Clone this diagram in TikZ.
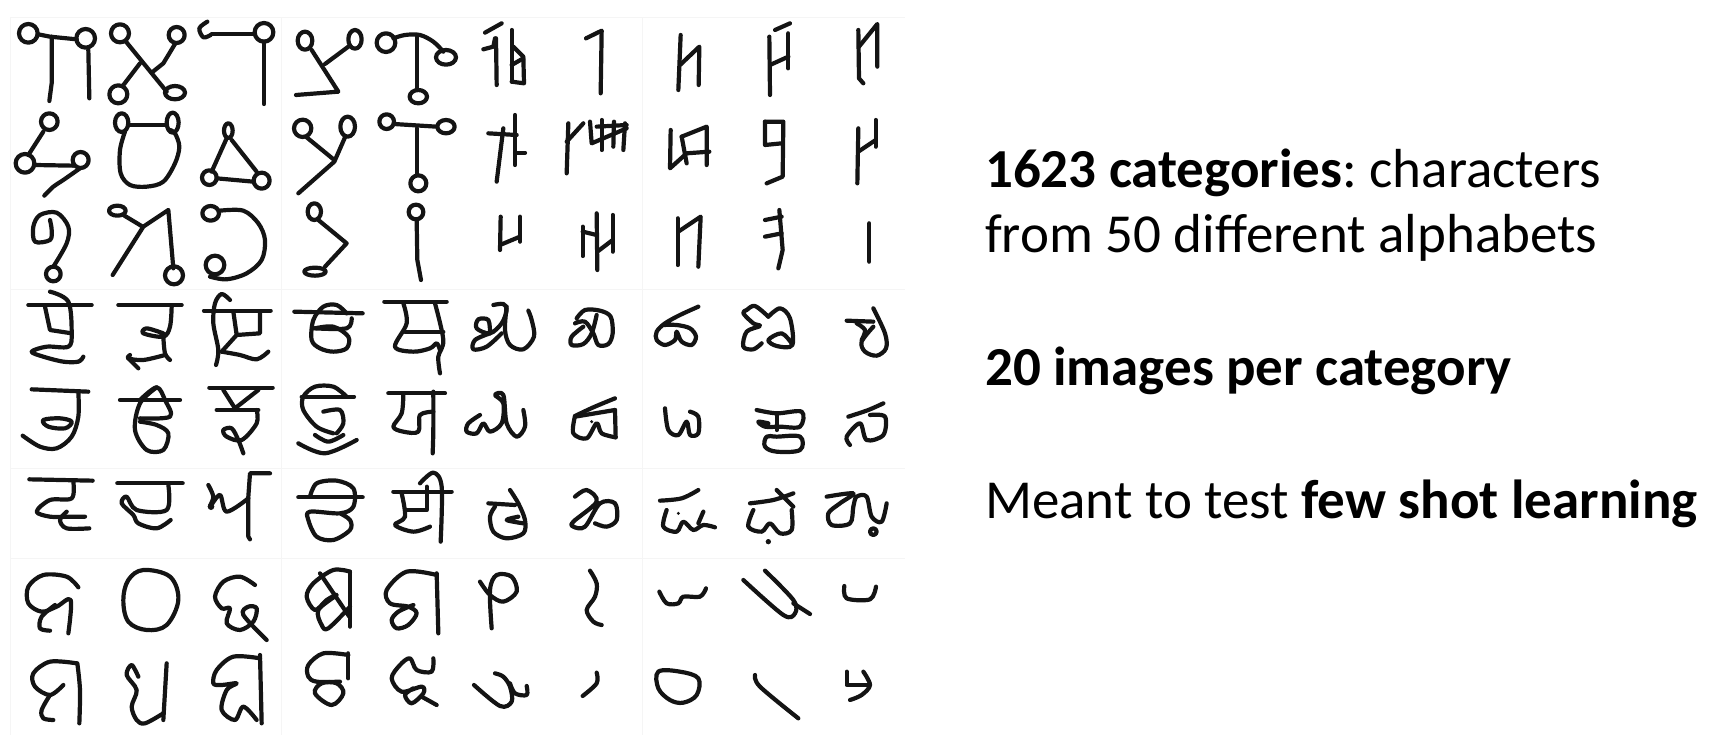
\documentclass[tikz,border=0pt]{standalone}
\usepackage{fontspec}
\setmainfont{Carlito}
\newcommand{\crv}[1]{\draw[ink] plot[smooth,tension=0.55] coordinates {#1};}
\newcommand{\crc}[1]{\draw[ink] plot[smooth cycle,tension=0.6] coordinates {#1};}
\tikzset{
	ink/.style={line width=4.2pt, line cap=round, line join=round, color=black!92},
	gridline/.style={line width=0.8pt, color=black!4},
	zoomed/.style={x=0.33333pt, y=-0.33333pt},
	caption/.style={anchor=base west, inner sep=0pt, font=\fontsize{55}{60}\selectfont}
}
\begin{document}
\begin{tikzpicture}[x=1pt,y=-1pt]
	\useasboundingbox (0,0) rectangle (1726,738);
	% faint seams of the sheet
	\draw[gridline] (10,17) -- (905,17);
	\draw[gridline] (10,289) -- (905,289);
	\draw[gridline] (10,468) -- (905,468);
	\draw[gridline] (10,558) -- (905,558);
	\draw[gridline] (10,17) -- (10,735);
	\draw[gridline] (281,17) -- (281,735);
	\draw[gridline] (642,17) -- (642,735);

	% rows 1 to 3, left
	\begin{scope}[shift={(0pt,0pt)},zoomed]
		\draw[ink] (85,100) circle[radius=28];
		\draw[ink] (115,103) -- (150,110) -- (230,118);
		\draw[ink] (257,115) circle[radius=28];
		\draw[ink] (155,110) -- (155,250) -- (148,303);
		\draw[ink] (265,150) -- (268,295);
		\draw[ink] (360,100) circle[radius=27];
		\draw[ink] (378,125) -- (500,275);
		\draw[ink] (530,105) circle[radius=24];
		\draw[ink] (525,132) -- (490,190) -- (455,218);
		\draw[ink] (368,258) -- (420,190);
		\draw[ink] (355,283) circle[radius=27];
		\draw[ink] (525,278) ellipse[x radius=30,y radius=20];
		\crv{(622,65) (598,85) (610,112) (632,105)}
		\draw[ink] (635,102) -- (765,102);
		\draw[ink] (792,97) circle[radius=28];
		\draw[ink] (792,125) -- (792,312);
		\draw[ink] (915,122) ellipse[x radius=22,y radius=27];
		\draw[ink] (935,150) -- (1015,275) -- (888,285);
		\draw[ink] (975,192) -- (1045,140);
		\draw[ink] (1065,118) ellipse[x radius=20,y radius=28];
		\draw[ink] (1158,128) circle[radius=28];
		\crv{(1180,115) (1215,105) (1260,105) (1300,125) (1330,155)}
		\draw[ink] (1338,172) ellipse[x radius=30,y radius=22];
		\draw[ink] (1250,110) -- (1250,270);
		\draw[ink] (1255,290) ellipse[x radius=26,y radius=20];

		\draw[ink] (148,365) circle[radius=25];
		\draw[ink] (130,395) -- (85,465);
		\draw[ink] (75,490) circle[radius=28];
		\draw[ink] (105,495) -- (220,497);
		\draw[ink] (242,480) circle[radius=24];
		\crv{(240,505) (190,540) (160,560) (133,587)}
		\draw[ink] (365,368) ellipse[x radius=20,y radius=28];
		\draw[ink] (518,368) ellipse[x radius=18,y radius=30];
		\draw[ink] (388,375) -- (495,375);
		\crv{(375,395) (360,450) (362,520) (390,555) (440,560) (490,545) (525,490) (538,440) (525,400) (510,390)}
		\draw[ink] (685,392) ellipse[x radius=13,y radius=22];
		\draw[ink] (680,415) -- (635,515);
		\draw[ink] (695,420) -- (770,515);
		\draw[ink] (650,535) -- (760,545);
		\draw[ink] (628,533) circle[radius=22];
		\draw[ink] (785,542) circle[radius=24];
		\draw[ink] (908,385) circle[radius=26];
		\draw[ink] (920,412) -- (1003,480);
		\draw[ink] (1043,380) ellipse[x radius=22,y radius=30];
		\draw[ink] (1035,412) -- (1003,485) -- (895,580);
		\draw[ink] (1160,365) circle[radius=22];
		\draw[ink] (1182,372) -- (1310,380);
		\draw[ink] (1338,380) ellipse[x radius=26,y radius=20];
		\draw[ink] (1250,385) -- (1250,525);
		\draw[ink] (1255,550) circle[radius=24];

		\crv{(150,660) (155,690) (150,720) (105,725) (100,680) (120,645) (170,638) (205,680) (200,730) (160,800)}
		\draw[ink] (160,822) circle[radius=22];
		\draw[ink] (352,632) ellipse[x radius=25,y radius=15];
		\draw[ink] (370,645) -- (428,680);
		\draw[ink] (338,825) -- (430,680) -- (505,630) -- (520,805);
		\draw[ink] (522,826) circle[radius=27];
		\draw[ink] (632,640) ellipse[x radius=25,y radius=22];
		\crv{(660,632) (730,632) (775,670) (795,720) (785,780) (740,820) (680,838) (630,830)}
		\draw[ink] (645,795) circle[radius=28];
		\draw[ink] (943,635) ellipse[x radius=20,y radius=25];
		\draw[ink] (955,660) -- (1040,730) -- (975,800);
		\draw[ink] (945,815) ellipse[x radius=32,y radius=12];
		\draw[ink] (1248,636) circle[radius=22];
		\draw[ink] (1250,660) -- (1252,780) -- (1263,840);
	\end{scope}

	% rows 1 to 3, right
	\begin{scope}[shift={(460pt,0pt)},zoomed]
		\draw[ink] (125,70) -- (75,98);
		\draw[ink] (70,148) -- (100,140) -- (105,115);
		\draw[ink] (108,115) -- (110,255);
		\draw[ink] (155,90) -- (155,245);
		\draw[ink] (160,140) -- (190,170) -- (192,250) -- (155,245);
		\draw[ink] (155,195) -- (190,175);
		\draw[ink] (378,115) -- (425,92) -- (422,280);
		\draw[ink] (662,105) -- (655,270);
		\draw[ink] (660,195) -- (718,140) -- (716,255);
		\draw[ink] (928,110) -- (930,285);
		\draw[ink] (945,90) -- (990,70);
		\draw[ink] (985,100) -- (985,205);
		\draw[ink] (985,170) -- (930,195);
		\draw[ink] (1195,90) -- (1197,235) -- (1210,250);
		\draw[ink] (1197,140) -- (1252,72) -- (1252,200);

		\draw[ink] (85,400) -- (170,405);
		\draw[ink] (130,385) -- (110,545);
		\draw[ink] (165,345) -- (165,495);
		\draw[ink] (165,458) -- (195,458);
		\draw[ink] (325,370) -- (320,520);
		\draw[ink] (320,425) -- (370,370);
		\draw[ink] (390,365) -- (395,430) -- (500,385);
		\draw[ink] (425,360) -- (425,450);
		\draw[ink] (462,365) -- (460,440);
		\draw[ink] (495,370) -- (490,450);
		\draw[ink] (410,380) -- (500,375);
		\draw[ink] (632,390) -- (630,505) -- (680,460) -- (748,455);
		\draw[ink] (665,410) -- (680,490);
		\draw[ink] (665,410) -- (740,380) -- (740,495);
		\draw[ink] (915,365) -- (970,365) -- (968,530) -- (920,550);
		\draw[ink] (915,365) -- (915,435) -- (965,430);
		\draw[ink] (1195,385) -- (1192,550);
		\draw[ink] (1195,455) -- (1247,420);
		\draw[ink] (1247,360) -- (1247,440);

		\draw[ink] (122,650) -- (120,750);
		\draw[ink] (120,735) -- (180,710);
		\draw[ink] (180,650) -- (180,725);
		\draw[ink] (368,680) -- (368,768);
		\draw[ink] (368,695) -- (410,705);
		\draw[ink] (410,640) -- (412,810);
		\draw[ink] (412,755) -- (458,720);
		\draw[ink] (458,645) -- (458,755);
		\draw[ink] (653,655) -- (653,795);
		\draw[ink] (655,695) -- (722,650) -- (715,800);
		\draw[ink] (915,660) -- (965,650);
		\draw[ink] (958,630) -- (968,750) -- (955,805);
		\draw[ink] (915,710) -- (965,700);
		\draw[ink] (1228,670) -- (1228,785);
	\end{scope}

	% rows 4 to 6, left
	\begin{scope}[shift={(0pt,-290pt)},zoomed]
		\draw[ink] (85,45) -- (275,45);
		\crv{(150,5) (205,35) (215,130) (205,170) (140,170) (95,185) (130,200) (190,215) (235,215) (250,200)}
		\draw[ink] (135,50) -- (150,120) -- (215,130);
		\draw[ink] (355,45) -- (545,45);
		\crv{(515,50) (510,110) (490,140) (430,130) (440,115) (490,130)}
		\crv{(490,140) (495,190) (510,210)}
		\crv{(495,195) (430,210) (385,205) (390,195)}
		\draw[ink] (385,205) -- (415,235);
		\draw[ink] (612,62) -- (812,62);
		\crv{(690,30) (665,12) (645,40) (640,100) (655,180) (648,225)}
		\draw[ink] (700,65) -- (710,135) -- (780,130) -- (780,65);
		\draw[ink] (710,135) -- (665,185);
		\crv{(665,185) (720,195) (770,208) (805,185)}
		\draw[ink] (883,65) -- (1088,70);
		\crv{(1040,70) (1010,45) (970,50) (940,90) (935,150) (960,175) (1000,185) (1040,175) (1045,140) (1000,110) (945,115)}
		\crv{(945,115) (1040,115) (1055,85)}
		\draw[ink] (1153,35) -- (1340,35);
		\crv{(1210,40) (1220,100) (1185,170) (1240,185) (1290,175) (1310,160) (1320,180)}
		\draw[ink] (1215,125) -- (1330,125);
		\crv{(1305,40) (1330,150) (1315,200) (1320,250)}

		\draw[ink] (95,298) -- (265,305);
		\crv{(235,305) (235,380) (215,440) (170,475) (120,470) (68,437)}
		\crc{(130,390) (180,385) (215,395) (195,415) (145,410)}
		\draw[ink] (360,330) -- (540,330);
		\crv{(420,330) (470,292) (495,330) (510,380) (420,385)}
		\crv{(470,292) (420,340) (405,420) (440,480) (490,480) (505,430) (470,405) (420,395)}
		\draw[ink] (628,293) -- (818,293);
		\draw[ink] (670,300) -- (705,355) -- (775,300);
		\draw[ink] (650,360) -- (775,360);
		\crv{(770,360) (770,400) (725,450) (680,440) (670,420) (695,415) (715,450) (730,490)}
		\draw[ink] (905,320) -- (1062,320);
		\crv{(1000,430) (950,410) (910,360) (910,320) (945,290) (1000,290) (1040,320)}
		\crv{(970,365) (1020,360) (1030,400) (1010,430)}
		\crv{(945,435) (985,455) (1030,435)}
		\crv{(895,460) (975,490) (1070,450)}
		\draw[ink] (1165,310) -- (1335,310);
		\crv{(1210,315) (1205,370) (1180,410) (1210,425) (1255,425) (1260,375) (1300,365)}
		\crv{(1300,305) (1300,420) (1298,490)}

		\draw[ink] (88,568) -- (278,572);
		\crv{(220,575) (215,625) (150,630) (110,665) (150,680) (200,680) (255,680)}
		\crv{(200,665) (180,690) (200,715) (268,715)}
		\draw[ink] (352,580) -- (548,580);
		\crv{(505,585) (500,660) (410,660) (380,620) (365,640) (400,675) (415,700) (470,715) (512,690)}
		\draw[ink] (810,550) -- (750,550) -- (745,620) -- (745,740) -- (750,748);
		\crv{(625,585) (640,620) (630,650) (660,615) (680,665) (745,625)}
		\fill[black!92] (633,650) circle[radius=10];
		\draw[ink] (895,622) -- (1088,622);
		\crv{(930,620) (950,580) (1010,572) (1060,595) (1060,650) (1020,670) (930,665) (925,690) (950,740) (1000,750) (1050,720) (1050,690) (1020,670)}
		\draw[ink] (1180,605) -- (1355,605);
		\crv{(1205,610) (1215,680) (1185,705) (1240,725) (1290,710)}
		\draw[ink] (1215,660) -- (1280,660) -- (1280,590);
		\crv{(1260,580) (1300,548) (1325,590) (1322,755)}
	\end{scope}

	% rows 4 to 6, right
	\begin{scope}[shift={(460pt,-290pt)},zoomed]
		\crv{(100,45) (130,42) (140,60) (125,100) (90,130) (50,115) (55,88) (85,90) (90,130)}
		\crv{(90,130) (45,150) (40,178) (80,170) (125,130)}
		\crv{(140,50) (135,120) (150,165) (190,178) (222,140) (215,90) (205,62)}
		\crv{(350,85) (375,60) (420,62) (452,80) (458,130) (445,162) (415,165) (400,130) (375,95) (345,100)}
		\crv{(370,110) (335,140) (335,165) (370,162) (395,130) (410,75)}
		\crv{(715,50) (660,75) (615,100) (590,125) (590,150) (615,165) (645,150) (650,125) (665,155) (695,165) (708,140) (690,115) (650,105) (610,105)}
		\crv{(925,80) (960,55) (990,85) (997,165) (950,168) (925,150) (965,130) (995,160)}
		\crv{(925,80) (885,48) (860,60) (850,70) (880,100) (900,108) (860,125) (850,170) (880,178) (905,160)}
		\draw[ink] (1160,92) -- (1240,95);
		\crv{(1240,55) (1275,130) (1278,175) (1250,197) (1215,185) (1205,155) (1240,110)}
		\crv{(1190,100) (1215,120) (1205,150)}

		\crv{(60,375) (25,400) (20,425) (50,430) (70,400) (90,425) (125,400) (130,340) (105,315) (130,315) (140,400) (170,440) (195,410) (190,360)}
		\crv{(465,325) (400,352) (345,378)}
		\crv{(345,378) (340,430) (380,445) (410,400) (425,430) (467,442)}
		\draw[ink] (345,380) -- (465,360);
		\draw[ink] (465,360) -- (467,442);
		\fill[black!92] (395,395) circle[radius=5];
		\crv{(615,355) (625,420) (655,435) (680,395) (690,435) (715,430) (715,380) (690,365)}
		\crv{(890,360) (950,370) (1025,365) (1020,410) (960,410) (915,410) (895,395) (925,400)}
		\draw[ink] (950,370) -- (950,420);
		\crc{(920,440) (915,470) (950,485) (1020,480) (1020,440) (950,440)}
		\crv{(1165,380) (1225,360) (1270,340)}
		\crv{(1170,465) (1160,440) (1200,400) (1220,450) (1270,435) (1275,380) (1230,375)}

		\draw[ink] (85,640) -- (165,645);
		\crv{(150,600) (175,640) (195,690) (190,730) (140,745) (100,725) (90,680) (105,650)}
		\crv{(175,680) (140,690) (190,700)}
		\crv{(345,620) (380,600) (410,635) (340,695) (340,710) (375,710) (420,640) (465,640) (470,690) (440,710) (405,700)}
		\crv{(600,632) (665,625) (715,600)}
		\crv{(620,660) (610,710) (650,725) (670,695) (700,720) (730,705) (765,712)}
		\draw[ink] (730,665) -- (715,700);
		\fill[black!92] (655,670) circle[radius=5];
		\crv{(870,640) (940,630) (1000,610)}
		\draw[ink] (950,600) -- (1000,650);
		\crv{(880,660) (865,710) (905,725) (930,700) (960,730) (995,720) (995,660)}
		\fill[black!92] (925,755) circle[radius=8];
		\crv{(1100,620) (1180,610) (1140,640) (1105,670) (1115,705) (1170,700) (1180,650) (1190,620) (1220,620) (1235,680) (1265,695) (1280,640)}
		\draw[ink] (1240,725) circle[radius=10];
	\end{scope}

	% rows 7 and 8, left
	\begin{scope}[shift={(0pt,-550pt)},zoomed]
		\crv{(235,112) (200,80) (130,75) (85,110) (85,160) (125,185) (170,170) (212,150) (205,250)}
		\crv{(165,165) (125,200) (120,235) (150,242)}
		\crc{(430,60) (510,80) (535,150) (500,225) (440,240) (385,215) (370,150) (385,90)}
		\crv{(765,105) (720,80) (670,95) (645,140) (665,175) (690,175) (680,220) (720,240) (760,215) (770,175) (745,170) (730,195) (800,270)}
		\draw[ink] (1050,65) -- (1050,230);
		\crv{(1050,65) (1000,60) (940,100) (920,140) (945,180) (980,150) (1010,135) (955,180) (965,225) (985,235) (1050,170)}
		\draw[ink] (960,70) -- (1048,200);
		\draw[ink] (1310,70) -- (1315,250);
		\crv{(1310,75) (1220,65) (1160,120) (1170,160) (1225,170) (1250,190) (1225,225) (1190,235) (1175,210) (1195,185) (1240,165)}

		\crv{(232,340) (240,420) (238,520)}
		\crv{(230,340) (150,335) (100,370) (105,410) (150,435) (190,405)}
		\crv{(150,435) (125,480) (130,505) (160,510)}
		\draw[ink] (500,340) -- (490,510);
		\crv{(415,380) (395,345) (380,375) (410,420) (395,470) (410,510) (435,520) (490,490)}
		\draw[ink] (780,315) -- (785,520);
		\crv{(780,325) (700,320) (650,360) (640,400) (665,405) (710,400) (680,420) (665,480) (705,510) (730,470) (770,510)}
		\draw[ink] (1045,310) -- (1045,385);
		\crv{(1045,315) (970,310) (925,345) (925,380) (950,395) (1020,395)}
		\crc{(965,400) (945,430) (995,465) (1030,430) (1010,400)}
		\crv{(1300,325) (1295,365) (1250,360) (1230,325) (1200,345) (1175,385) (1205,425) (1265,410) (1270,430) (1235,460) (1215,435) (1240,415)}
		\draw[ink] (1265,440) -- (1310,465);
	\end{scope}

	% rows 7 and 8, right
	\begin{scope}[shift={(460pt,-550pt)},zoomed]
		\crv{(60,95) (90,135) (130,155) (170,125) (155,80) (110,75) (90,120) (95,235)}
		\crv{(390,62) (410,100) (405,140) (380,180) (400,215) (425,225)}
		\crv{(598,125) (620,160) (655,160) (670,140) (720,140) (738,115)}
		\crv{(850,90) (970,195) (1005,190) (1000,150) (915,62)}
		\draw[ink] (1000,160) -- (1050,192);
		\crv{(1153,108) (1160,145) (1230,148) (1248,110)}

		\crv{(42,405) (120,468) (155,455) (150,410) (130,380) (105,370)}
		\crv{(150,400) (165,430) (200,435) (200,408)}
		\crv{(410,368) (410,400) (368,438)}
		\crc{(595,365) (660,365) (715,385) (710,435) (670,458) (630,450) (595,415)}
		\crv{(885,375) (900,410) (1015,505)}
		\draw[ink] (1160,365) -- (1160,405) -- (1225,405);
		\crv{(1210,365) (1230,405) (1205,435) (1170,450)}
	\end{scope}

	% captions
	\node[caption] (categories) at (985,188) {\textbf{1623 categories}:\kern-4pt{} characters};
	\node[caption] (alphabets) at (985,252) {from 50 different alphabets};
	\node[caption] (images) at (985,385) {\textbf{20 images per category}};
	\node[caption] (meant) at (985,518) {Meant to test \textbf{few shot learning}};
\end{tikzpicture}
\end{document}
